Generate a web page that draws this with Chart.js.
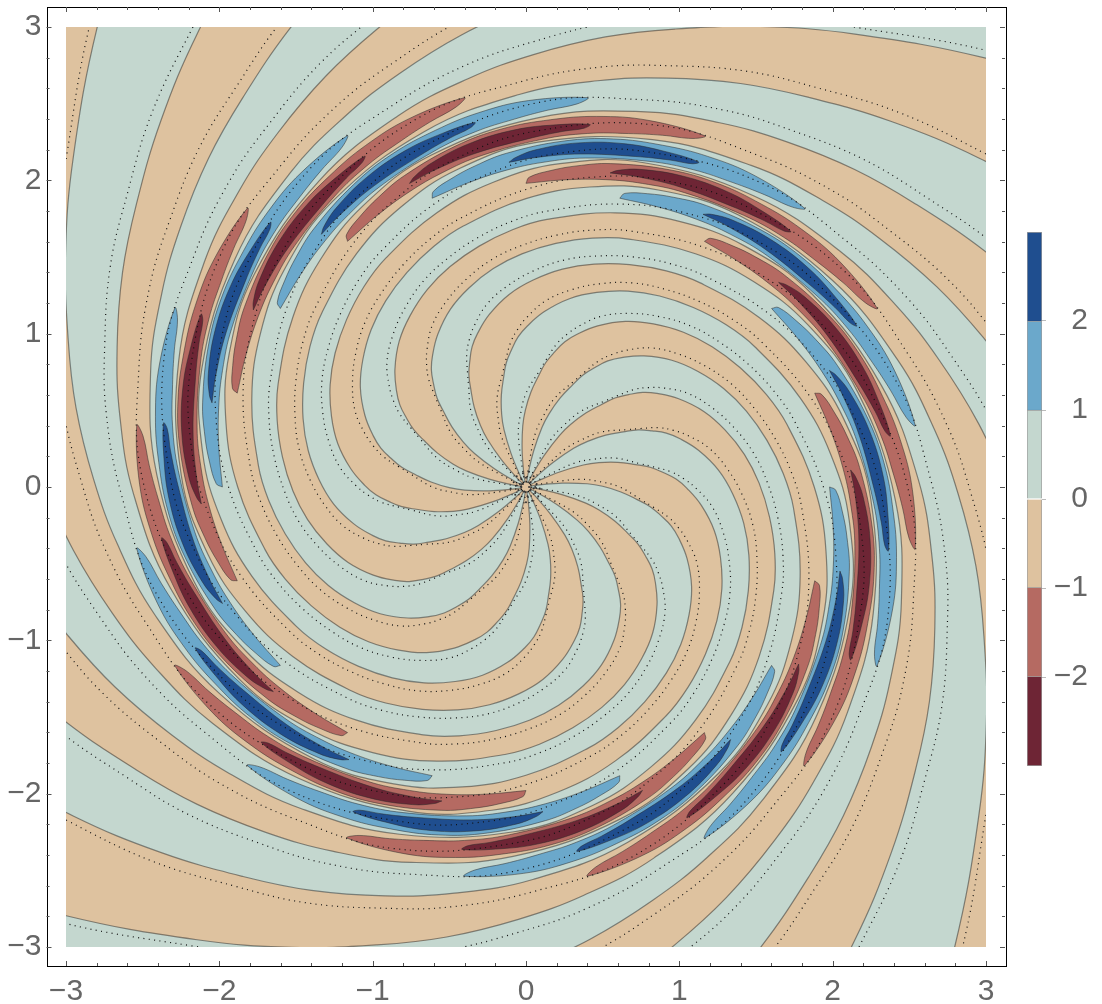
<!DOCTYPE html>
<html>
<head>
<meta charset="utf-8">
<style>
body { margin: 0; background: #fff; }
#plot { position: absolute; left: 0; top: 0; }
#bar { position: absolute; left: 1020px; top: 216px; }
</style>
<script src="https://cdn.jsdelivr.net/npm/chart.js"></script>
</head>
<body>
<canvas id="plot" width="1102" height="1004"></canvas>
<canvas id="bar" width="82" height="566"></canvas>
<script>
// contour readings in polar form: radius in plot units, angle in degrees
const curveRadii = [0.03,0.09,0.24,0.40,0.50,0.62,0.73,0.82,0.90,0.98,1.05,1.15,1.26,1.35,1.44,1.52,1.60,1.68,1.75,1.88,2.00,2.12,2.25,2.41,2.56,2.69,2.82,2.98,3.14,3.37,3.65,4.10,4.50];
const dotRadii = [0.03,0.07,0.20,0.36,0.47,0.61,0.76,0.84,0.95,1.03,1.11,1.22,1.32,1.41,1.50,1.575,1.655,1.735,1.805,1.94,2.065,2.19,2.325,2.51,2.64,2.78,2.905,3.07,3.22,3.45,3.70,4.16,4.55];
const dotLead = [3,3,4,5,4,3,0,0,0,0,0,0,0,0,0,0,0,0,0,0,0,0,0,0,0,0,0,0,0,0,0,0,0];

// zero contours, going round the plot
const zeroCurves = [
  [28,27,24,21,18.5,15,11.5,9,6,3,-0.5,-6,-13,-20,-27.5,-35,-43,-51,-58.5,-72,-84,-96,-110,-128,-143,-154,-163,-172,-180,-189,-198,-209,-217],
  [46,45,42,39,36.5,33,29.5,27,24,21,17.5,12,5,-2,-9.5,-17,-25,-33,-40.5,-54,-66,-78,-92,-110,-125,-136,-145,-154,-162,-171,-180,-191,-199],
  [64,63,60,57,54.5,51,47.5,45,42,39,35.5,30,23,16,8.5,1,-7,-15,-22.5,-36,-48,-60,-74,-92,-107,-118,-127,-136,-144,-153,-162,-173,-181],
  [82,81,78,75,72.5,69,65.5,63,60,57,53.5,48,41,34,26.5,19,11,3,-4.5,-18,-30,-42,-56,-74,-89,-100,-109,-118,-126,-135,-144,-155,-163],
  [100,99,96,93,90.5,87,83.5,81,78,75,71.5,66,59,52,44.5,37,29,21,13.5,0,-12,-24,-38,-56,-71,-82,-91,-100,-108,-117,-126,-137,-145],
  [118,117,114,111,108.5,105,101.5,99,96,93,89.5,84,77,70,62.5,55,47,39,31.5,18,6,-6,-20,-38,-53,-64,-73,-82,-90,-99,-108,-119,-127],
  [136,135,132,129,126.5,123,119.5,117,114,111,107.5,102,95,88,80.5,73,65,57,49.5,36,24,12,-2,-20,-35,-46,-55,-64,-72,-81,-90,-101,-109],
  [154,153,150,147,144.5,141,137.5,135,132,129,125.5,120,113,106,98.5,91,83,75,67.5,54,42,30,16,-2,-17,-28,-37,-46,-54,-63,-72,-83,-91],
  [172,171,168,165,162.5,159,155.5,153,150,147,143.5,138,131,124,116.5,109,101,93,85.5,72,60,48,34,16,1,-10,-19,-28,-36,-45,-54,-65,-73],
  [190,189,186,183,180.5,177,173.5,171,168,165,161.5,156,149,142,134.5,127,119,111,103.5,90,78,66,52,34,19,8,-1,-10,-18,-27,-36,-47,-55],
  [208,207,204,201,198.5,195,191.5,189,186,183,179.5,174,167,160,152.5,145,137,129,121.5,108,96,84,70,52,37,26,17,8,0,-9,-18,-29,-37],
  [226,225,222,219,216.5,213,209.5,207,204,201,197.5,192,185,178,170.5,163,155,147,139.5,126,114,102,88,70,55,44,35,26,18,9,0,-11,-19],
  [244,243,240,237,234.5,231,227.5,225,222,219,215.5,210,203,196,188.5,181,173,165,157.5,144,132,120,106,88,73,62,53,44,36,27,18,7,-1],
  [262,261,258,255,252.5,249,245.5,243,240,237,233.5,228,221,214,206.5,199,191,183,175.5,162,150,138,124,106,91,80,71,62,54,45,36,25,17],
  [280,279,276,273,270.5,267,263.5,261,258,255,251.5,246,239,232,224.5,217,209,201,193.5,180,168,156,142,124,109,98,89,80,72,63,54,43,35],
  [298,297,294,291,288.5,285,281.5,279,276,273,269.5,264,257,250,242.5,235,227,219,211.5,198,186,174,160,142,127,116,107,98,90,81,72,61,53],
  [316,315,312,309,306.5,303,299.5,297,294,291,287.5,282,275,268,260.5,253,245,237,229.5,216,204,192,178,160,145,134,125,116,108,99,90,79,71],
  [334,333,330,327,324.5,321,317.5,315,312,309,305.5,300,293,286,278.5,271,263,255,247.5,234,222,210,196,178,163,152,143,134,126,117,108,97,89],
  [352,351,348,345,342.5,339,335.5,333,330,327,323.5,318,311,304,296.5,289,281,273,265.5,252,240,228,214,196,181,170,161,152,144,135,126,115,107],
  [370,369,366,363,360.5,357,353.5,351,348,345,341.5,336,329,322,314.5,307,299,291,283.5,270,258,246,232,214,199,188,179,170,162,153,144,133,125]
];

// level +-1 islands: centre line angle at each radius, and half width in degrees
const lightRadii = [1.98,2.02,2.07,2.12,2.18,2.27,2.34,2.40,2.46,2.52,2.57];
const lightWidth = [0,3.4,5,6,6.8,7.2,6.9,6.2,5.2,3.6,0];
const redIslands = [
  [-90,-94,-99.5,-105,-111.5,-121.5,-129,-136,-142,-148,-153],
  [-54,-58,-63.5,-69,-75.5,-85.5,-93,-100,-106,-112,-117],
  [-18,-22,-27.5,-33,-39.5,-49.5,-57,-64,-70,-76,-81],
  [18,14,8.5,3,-3.5,-13.5,-21,-28,-34,-40,-45],
  [54,50,44.5,39,32.5,22.5,15,8,2,-4,-9],
  [90,86,80.5,75,68.5,58.5,51,44,38,32,27],
  [126,122,116.5,111,104.5,94.5,87,80,74,68,63],
  [162,158,152.5,147,140.5,130.5,123,116,110,104,99],
  [198,194,188.5,183,176.5,166.5,159,152,146,140,135],
  [234,230,224.5,219,212.5,202.5,195,188,182,176,171]
];
const blueIslands = [
  [-72,-76,-81.5,-87,-93.5,-103.5,-111,-118,-124,-130,-135],
  [-36,-40,-45.5,-51,-57.5,-67.5,-75,-82,-88,-94,-99],
  [0,-4,-9.5,-15,-21.5,-31.5,-39,-46,-52,-58,-63],
  [36,32,26.5,21,14.5,4.5,-3,-10,-16,-22,-27],
  [72,68,62.5,57,50.5,40.5,33,26,20,14,9],
  [108,104,98.5,93,86.5,76.5,69,62,56,50,45],
  [144,140,134.5,129,122.5,112.5,105,98,92,86,81],
  [180,176,170.5,165,158.5,148.5,141,134,128,122,117],
  [216,212,206.5,201,194.5,184.5,177,170,164,158,153],
  [252,248,242.5,237,230.5,220.5,213,206,200,194,189]
];

// level +-2 islands
const darkRadii = [2.12,2.15,2.20,2.27,2.33,2.37,2.40];
const darkWidth = [0,1.8,3.8,4.8,3.8,2.2,0];
const darkRedIslands = [
  [-105,-108,-113.5,-121.5,-128,-133,-136],
  [-69,-72,-77.5,-85.5,-92,-97,-100],
  [-33,-36,-41.5,-49.5,-56,-61,-64],
  [3,0,-5.5,-13.5,-20,-25,-28],
  [39,36,30.5,22.5,16,11,8],
  [75,72,66.5,58.5,52,47,44],
  [111,108,102.5,94.5,88,83,80],
  [147,144,138.5,130.5,124,119,116],
  [183,180,174.5,166.5,160,155,152],
  [219,216,210.5,202.5,196,191,188]
];
const darkBlueIslands = [
  [-87,-90,-95.5,-103.5,-110,-115,-118],
  [-51,-54,-59.5,-67.5,-74,-79,-82],
  [-15,-18,-23.5,-31.5,-38,-43,-46],
  [21,18,12.5,4.5,-2,-7,-10],
  [57,54,48.5,40.5,34,29,26],
  [93,90,84.5,76.5,70,65,62],
  [129,126,120.5,112.5,106,101,98],
  [165,162,156.5,148.5,142,137,134],
  [201,198,192.5,184.5,178,173,170],
  [237,234,228.5,220.5,214,209,206]
];

// the tangle of specks right at the origin
const speckX = [-0.08,-0.06,-0.05,-0.03,-0.02,0,0.02,0.03,0.05,0.07,0.09,-0.1,-0.07,-0.04,-0.01,0.01,0.04,0.06,0.08,-0.06,-0.03,0,0.03,0.06,-0.04,0.02,-0.02,0.05];
const speckY = [0.03,0.07,-0.02,0.05,0.09,0.06,0.1,0.03,0.07,0.02,-0.01,-0.01,-0.05,-0.08,-0.03,-0.06,-0.09,-0.04,-0.06,0.01,0,-0.1,-0.02,0,0.02,0,0.02,-0.01];

const plotCornersX = [-3, 3, 3, -3, -3];
const plotCornersY = [-3, -3, 3, 3, -3];
const labelTicks = [-3, -2, -1, 0, 1, 2, 3];
const minorTicks = [-3,-2.8,-2.6,-2.4,-2.2,-2,-1.8,-1.6,-1.4,-1.2,-1,-0.8,-0.6,-0.4,-0.2,0,0.2,0.4,0.6,0.8,1,1.2,1.4,1.6,1.8,2,2.2,2.4,2.6,2.8,3];

const barEdges = [-3, -2, -1, 0, 1, 2, 3];
const barTicks = [-2, -1, 0, 1, 2];
const barColors = ['#6e2535', '#b56a62', '#dec29f', '#c4d7cf', '#6ba8cb', '#1f4e8f'];

const TAN = '#dec29f', GREEN = '#c4d7cf', BLUE = '#6ba8cb', DARKBLUE = '#1f4e8f', RED = '#b56a62', DARKRED = '#6e2535';
const LINE = 'rgba(40,40,40,0.5)';
const FONT = { family: '"Liberation Sans", Arial, sans-serif', size: 30 };
const minus = v => String(v).replace('-', '\u2212');

function polar(r, deg) {
  const a = deg * Math.PI / 180;
  return { x: r * Math.cos(a), y: r * Math.sin(a) };
}

function shape(points, color, width, tension) {
  return {
    data: points, showLine: true, fill: 'shape', backgroundColor: color,
    borderColor: LINE, borderWidth: width, pointRadius: 0, tension: tension
  };
}

function island(radii, centre, widths, color) {
  const upper = radii.map((r, i) => polar(r, centre[i] + widths[i]));
  const lower = radii.map((r, i) => polar(r, centre[i] - widths[i])).reverse();
  return shape(upper.concat(lower.slice(1)), color, 1, 0.4);
}

const datasets = [];
datasets.push(shape(plotCornersX.map((x, i) => ({ x: x, y: plotCornersY[i] })), TAN, 0, 0));

// green arms sit between each pair of neighbouring zero contours
for (let i = 0; i < zeroCurves.length; i += 2) {
  const a = curveRadii.map((r, k) => polar(r, zeroCurves[i][k]));
  const b = curveRadii.map((r, k) => polar(r, zeroCurves[i + 1][k])).reverse();
  datasets.push(shape(a.concat(b), GREEN, 1.2, 0.4));
}

redIslands.forEach(c => datasets.push(island(lightRadii, c, lightWidth, RED)));
blueIslands.forEach(c => datasets.push(island(lightRadii, c, lightWidth, BLUE)));
darkRedIslands.forEach(c => datasets.push(island(darkRadii, c, darkWidth, DARKRED)));
darkBlueIslands.forEach(c => datasets.push(island(darkRadii, c, darkWidth, DARKBLUE)));

zeroCurves.forEach(c => {
  datasets.push({
    data: dotRadii.map((r, k) => polar(r, c[k] + dotLead[k])),
    showLine: true, fill: false, borderColor: '#111', borderWidth: 1.2,
    borderDash: [1, 4.4], pointRadius: 0, tension: 0.4
  });
});

datasets.push({
  data: speckX.map((x, i) => ({ x: x, y: speckY[i] })),
  showLine: false, pointRadius: 1, pointBorderWidth: 0, pointBackgroundColor: '#333'
});

// first dataset is painted last, so flip the list
datasets.reverse();

const plotClip = {
  id: 'plotClip',
  beforeDatasetsDraw(chart) {
    const { x, y } = chart.scales;
    const ctx = chart.ctx;
    ctx.save();
    ctx.beginPath();
    ctx.rect(x.getPixelForValue(-3), y.getPixelForValue(3), x.getPixelForValue(3) - x.getPixelForValue(-3), y.getPixelForValue(-3) - y.getPixelForValue(3));
    ctx.clip();
  },
  afterDatasetsDraw(chart) {
    chart.ctx.restore();
  }
};

const frameTicks = {
  id: 'frameTicks',
  afterDraw(chart) {
    const { x, y } = chart.scales;
    const a = chart.chartArea;
    const ctx = chart.ctx;
    ctx.save();
    ctx.strokeStyle = '#000';
    ctx.lineWidth = 1;
    ctx.strokeRect(Math.round(a.left) + 0.5, Math.round(a.top) + 0.5, Math.round(a.right - a.left), Math.round(a.bottom - a.top));
    ctx.strokeStyle = '#555';
    ctx.beginPath();
    minorTicks.forEach(v => {
      const len = labelTicks.includes(v) ? 5 : 3;
      const px = Math.round(x.getPixelForValue(v)) + 0.5;
      const py = Math.round(y.getPixelForValue(v)) + 0.5;
      ctx.moveTo(px, a.bottom); ctx.lineTo(px, a.bottom - len);
      ctx.moveTo(px, a.top); ctx.lineTo(px, a.top + len);
      ctx.moveTo(a.left, py); ctx.lineTo(a.left + len, py);
      ctx.moveTo(a.right, py); ctx.lineTo(a.right - len, py);
    });
    ctx.stroke();
    ctx.restore();
  }
};

new Chart(document.getElementById('plot'), {
  type: 'scatter',
  data: { datasets: datasets },
  options: {
    responsive: false,
    animation: false,
    layout: { padding: { left: 0, top: 7, right: 97, bottom: 0 } },
    plugins: { legend: { display: false }, tooltip: { enabled: false }, title: { display: false } },
    scales: {
      x: {
        type: 'linear', min: -3.127, max: 3.124,
        afterBuildTicks: s => { s.ticks = labelTicks.map(v => ({ value: v })); },
        afterFit: s => { s.height = 38; s.paddingLeft = 0; s.paddingRight = 0; },
        grid: { display: false, drawTicks: false }, border: { display: false },
        ticks: { font: FONT, color: '#666', padding: 8, maxRotation: 0, autoSkip: false, callback: minus }
      },
      y: {
        type: 'linear', min: -3.124, max: 3.13,
        afterBuildTicks: s => { s.ticks = labelTicks.map(v => ({ value: v })); },
        afterFit: s => { s.width = 46.5; s.paddingTop = 0; s.paddingBottom = 0; },
        grid: { display: false, drawTicks: false }, border: { display: false },
        ticks: { font: FONT, color: '#666', padding: 5, autoSkip: false, callback: minus }
      }
    }
  },
  plugins: [plotClip, frameTicks]
});

new Chart(document.getElementById('bar'), {
  type: 'bar',
  data: {
    labels: [''],
    datasets: barColors.map((c, i) => ({
      data: [[barEdges[i], barEdges[i + 1]]],
      backgroundColor: c, borderColor: 'rgba(60,60,60,0.5)', borderWidth: 1,
      barPercentage: 1, categoryPercentage: 1
    }))
  },
  options: {
    responsive: false,
    animation: false,
    layout: { padding: { left: 7, top: 16, right: 14, bottom: 16 } },
    plugins: { legend: { display: false }, tooltip: { enabled: false } },
    scales: {
      x: { display: false, stacked: true },
      y: {
        position: 'right', min: -3, max: 3,
        afterBuildTicks: s => { s.ticks = barTicks.map(v => ({ value: v })); },
        afterFit: s => { s.width = 46; s.paddingTop = 0; s.paddingBottom = 0; },
        grid: { drawOnChartArea: false, tickLength: 4, tickColor: '#bbb' }, border: { display: false },
        ticks: { font: FONT, color: '#666', padding: 9, crossAlign: 'far', autoSkip: false, callback: minus }
      }
    }
  }
});
</script>
</body>
</html>
